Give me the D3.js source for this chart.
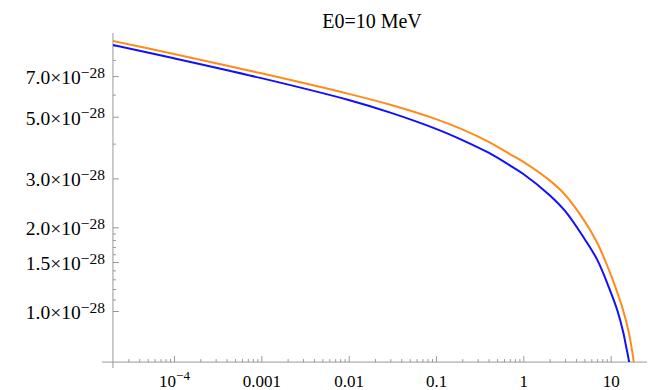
<!DOCTYPE html>
<html>
<head>
<meta charset="utf-8">
<script src="https://cdn.jsdelivr.net/npm/d3@7"></script>
<style>
  body { margin: 0; background: #fff; }
  svg { display: block; }
  .axis line { stroke: #999; }
  .axis path { display: none; }
</style>
</head>
<body>
<div id="vis"></div>
<script>
const FRAME_WIDTH = 653;
const FRAME_HEIGHT = 390;
const SERIF = "Liberation Serif, Times New Roman, serif";

// energies (MeV) and values in units of 1e-28
const blueX = [2e-5, 1e-4, 1e-3, 0.01, 0.03, 0.1, 0.2, 0.4, 0.7, 1, 2, 3, 5, 7, 10, 12, 14, 15, 16, 17];
const blueY = [9.05, 8.11, 6.88, 5.74, 5.17, 4.52, 4.12, 3.71, 3.34, 3.11, 2.61, 2.29, 1.82, 1.53, 1.17, 0.998, 0.832, 0.746, 0.674, 0.595];
const orangeX = [2e-5, 1e-4, 1e-3, 0.01, 0.03, 0.1, 0.2, 0.4, 0.7, 1, 2, 3, 5, 7, 10, 12, 14, 16, 17, 18, 19];
const orangeY = [9.36, 8.41, 7.16, 6.04, 5.52, 4.90, 4.50, 4.06, 3.67, 3.44, 2.95, 2.62, 2.11, 1.76, 1.355, 1.157, 0.996, 0.845, 0.766, 0.685, 0.609];

// tick labels
const xMajor = [1e-4, 1e-3, 0.01, 0.1, 1, 10];
const xLabels = [["10", "\u22124"], ["0.001", ""], ["0.01", ""], ["0.1", ""], ["1", ""], ["10", ""]];
const yMajor = [1.0, 1.5, 2.0, 3.0, 5.0, 7.0];
const yMinor = [1.1, 1.2, 1.3, 1.4, 1.6, 1.7, 1.8, 1.9, 4, 6, 8, 9];
const yExp = "\u221228";
const title = "E0=10 MeV";

const X_MIN = 2e-5, X_MAX = 26;
const Y_MIN = 0.655, Y_MAX = 10;

const FRAME = d3.select("#vis")
  .append("svg")
    .attr("width", FRAME_WIDTH)
    .attr("height", FRAME_HEIGHT)
    .style("font-family", SERIF);

// decade 1e-4 .. 10 spans 174 .. 610.7 px
const X_SCALE = d3.scaleLog().domain([1e-4, 10]).range([174, 610.7]);
// 1 .. 10 (x1e-28) spans 311 .. 33 px
const Y_SCALE = d3.scaleLog().domain([1, 10]).range([311, 33]);

const x0 = X_SCALE(X_MIN), y0 = Y_SCALE(Y_MIN);

// minor x ticks: 2..9 times each decade, up to 10
const xMinor = [];
[1e-5, 1e-4, 1e-3, 0.01, 0.1, 1].forEach(d => {
  for (let k = 2; k <= 9; k++) {
    const v = d * k;
    if (v > X_MIN * 1.01) xMinor.push(v);
  }
});

// axes lines
FRAME.append("line")
  .attr("x1", x0 - 11).attr("x2", X_SCALE(X_MAX))
  .attr("y1", y0).attr("y2", y0)
  .attr("stroke", "#999");
FRAME.append("line")
  .attr("x1", x0).attr("x2", x0)
  .attr("y1", Y_SCALE(Y_MAX)).attr("y2", y0 + 6)
  .attr("stroke", "#999");

// x ticks (pointing up)
FRAME.append("g").attr("class", "axis")
  .attr("transform", "translate(0," + y0 + ")")
  .call(d3.axisBottom(X_SCALE).tickValues(xMinor).tickSize(-3).tickFormat(""));
const xAx = FRAME.append("g").attr("class", "axis")
  .attr("transform", "translate(0," + y0 + ")")
  .call(d3.axisBottom(X_SCALE).tickValues(xMajor).tickSize(-6).tickFormat(""))
  .attr("font-family", null)
  .attr("font-size", null);
xAx.selectAll(".tick text").remove();
xAx.selectAll(".tick").each(function(d, i) {
  const t = d3.select(this).append("text")
    .attr("y", 25)
    .attr("text-anchor", "middle")
    .attr("fill", "#000")
    .style("font-size", "17px");
  t.append("tspan").text(xLabels[i][0]);
  if (xLabels[i][1]) {
    t.append("tspan").attr("dy", -7).style("font-size", "13px").text(xLabels[i][1]);
  }
});

// y ticks (pointing right)
FRAME.append("g").attr("class", "axis")
  .attr("transform", "translate(" + x0 + ",0)")
  .call(d3.axisLeft(Y_SCALE).tickValues(yMinor).tickSize(-3).tickFormat(""));
const yAx = FRAME.append("g").attr("class", "axis")
  .attr("transform", "translate(" + x0 + ",0)")
  .call(d3.axisLeft(Y_SCALE).tickValues(yMajor).tickSize(-6).tickFormat(""))
  .attr("font-family", null)
  .attr("font-size", null);
yAx.selectAll(".tick text").remove();
yAx.selectAll(".tick").each(function(d) {
  const t = d3.select(this).append("text")
    .attr("x", -8)
    .attr("y", 7.5)
    .attr("text-anchor", "end")
    .attr("fill", "#000")
    .style("font-size", "19.5px");
  t.append("tspan").text(d.toFixed(1) + "\u00d710");
  t.append("tspan").attr("dy", -6.5).style("font-size", "15.5px").text(yExp);
});

// curves
FRAME.append("clipPath").attr("id", "clip")
  .append("rect")
    .attr("x", x0).attr("y", 0)
    .attr("width", FRAME_WIDTH - x0).attr("height", y0);

const line = d3.line()
  .x(d => X_SCALE(d[0]))
  .y(d => Y_SCALE(d[1]))
  .curve(d3.curveCatmullRom.alpha(0.5));

const series = [
  {xs: orangeX, ys: orangeY, color: "#ff8c1a"},
  {xs: blueX, ys: blueY, color: "#1010ff"}
];

FRAME.append("g").attr("clip-path", "url(#clip)")
  .selectAll("path")
  .data(series)
  .enter()
  .append("path")
    .attr("d", s => line(s.xs.map((x, i) => [x, s.ys[i]])))
    .attr("fill", "none")
    .attr("stroke", s => s.color)
    .attr("stroke-width", 2);

// title
FRAME.append("text")
  .attr("x", 372)
  .attr("y", 28)
  .attr("text-anchor", "middle")
  .style("font-size", "20px")
  .text(title);
</script>
</body>
</html>
